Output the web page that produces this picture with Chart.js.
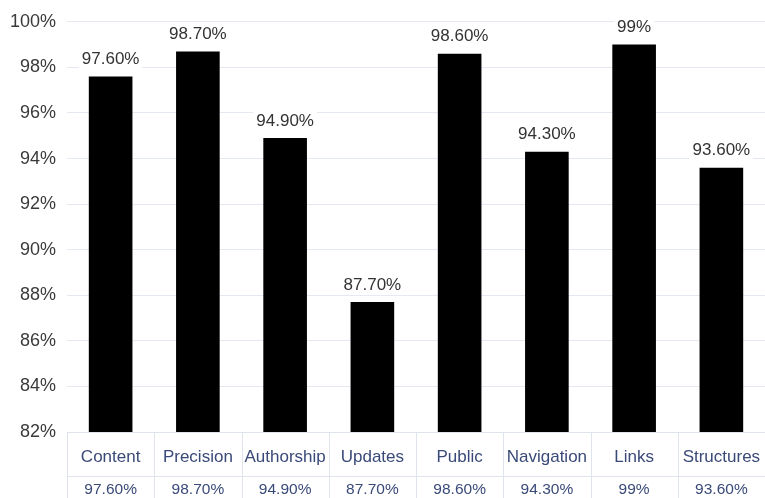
<!DOCTYPE html>
<html>
<head>
<meta charset="utf-8">
<script src="https://cdn.jsdelivr.net/npm/chart.js@4.4.1/dist/chart.umd.min.js"></script>
<style>
  html, body { margin: 0; padding: 0; background: #fff; }
  #wrap { width: 765px; height: 498px; position: relative; }
</style>
</head>
<body>
<div id="wrap"><canvas id="scoreChart"></canvas></div>
<script>
'use strict';

/* --- data --- */
const categories = ['Content', 'Precision', 'Authorship', 'Updates', 'Public', 'Navigation', 'Links', 'Structures'];
const scores = [97.6, 98.7, 94.9, 87.7, 98.6, 94.3, 99, 93.6];
const scoreLabels = ['97.60%', '98.70%', '94.90%', '87.70%', '98.60%', '94.30%', '99%', '93.60%'];
const yTicks = [82, 84, 86, 88, 90, 92, 94, 96, 98, 100];

const FONT = '"Liberation Sans", Arial, Helvetica, sans-serif';
const TABLE_TEXT = '#3a4a78';
const TABLE_LINE = '#dfe3ec';

// value labels above each bar, with a white box behind them
const barLabels = {
    id: 'barLabels',
    afterDatasetsDraw(chart) {
        const ctx = chart.ctx;
        const meta = chart.getDatasetMeta(0);
        ctx.save();
        ctx.font = '17px ' + FONT;
        ctx.textAlign = 'center';
        ctx.textBaseline = 'middle';
        meta.data.forEach((bar, i) => {
            const txt = scoreLabels[i];
            const y = bar.y - 17;
            const w = ctx.measureText(txt).width + 6;
            ctx.fillStyle = '#fff';
            ctx.fillRect(bar.x - w / 2, y - 10, w, 20);
            ctx.fillStyle = '#333';
            ctx.fillText(txt, bar.x, y);
        });
        ctx.restore();
    },
};

// data table below the plot: category names + values
const dataTable = {
    id: 'dataTable',
    afterDraw(chart) {
        const ctx = chart.ctx;
        const area = chart.chartArea;
        const xs = chart.scales.x;
        const colW = (area.right - area.left) / categories.length;
        const top = area.bottom;
        const mid = top + 44;
        const bottom = chart.height;
        ctx.save();
        ctx.strokeStyle = TABLE_LINE;
        ctx.lineWidth = 1;
        ctx.beginPath();
        ctx.moveTo(area.left, top + 0.5);
        ctx.lineTo(area.right, top + 0.5);
        ctx.moveTo(area.left, mid + 0.5);
        ctx.lineTo(area.right, mid + 0.5);
        for (let i = 0; i <= categories.length; i++) {
            const x = Math.round(area.left + i * colW) + 0.5;
            ctx.moveTo(x, top);
            ctx.lineTo(x, bottom);
        }
        ctx.stroke();

        ctx.fillStyle = TABLE_TEXT;
        ctx.textAlign = 'center';
        ctx.textBaseline = 'middle';
        categories.forEach((c, i) => {
            const x = xs.getPixelForValue(i);
            ctx.font = '17px ' + FONT;
            ctx.fillText(c, x, top + 25);
            ctx.font = '15.5px ' + FONT;
            ctx.fillText(scoreLabels[i], x, mid + 14);
        });
        ctx.restore();
    },
};

const ctx = document.getElementById('scoreChart').getContext('2d');
new Chart(ctx, {
    type: 'bar',
    data: {
        labels: categories,
        datasets: [{
            data: scores,
            backgroundColor: '#000',
            borderWidth: 0,
            categoryPercentage: 1,
            barPercentage: 0.5,
        }],
    },
    options: {
        responsive: true,
        maintainAspectRatio: false,
        animation: false,
        layout: { padding: { top: 21, bottom: 66, left: 0, right: 0 } },
        plugins: {
            legend: { display: false },
            tooltip: { enabled: false },
        },
        scales: {
            x: { display: false },
            y: {
                min: yTicks[0],
                max: yTicks[yTicks.length - 1],
                afterBuildTicks: s => { s.ticks = yTicks.map(v => ({ value: v })); },
                afterFit: s => { s.width = 67; },
                border: { display: false },
                grid: { color: '#e4e8f0', lineWidth: 1, drawTicks: false },
                ticks: {
                    padding: 11,
                    color: '#3a3a3a',
                    font: { family: FONT, size: 18 },
                    callback: v => v + '%',
                },
            },
        },
    },
    plugins: [barLabels, dataTable],
});
</script>
</body>
</html>
